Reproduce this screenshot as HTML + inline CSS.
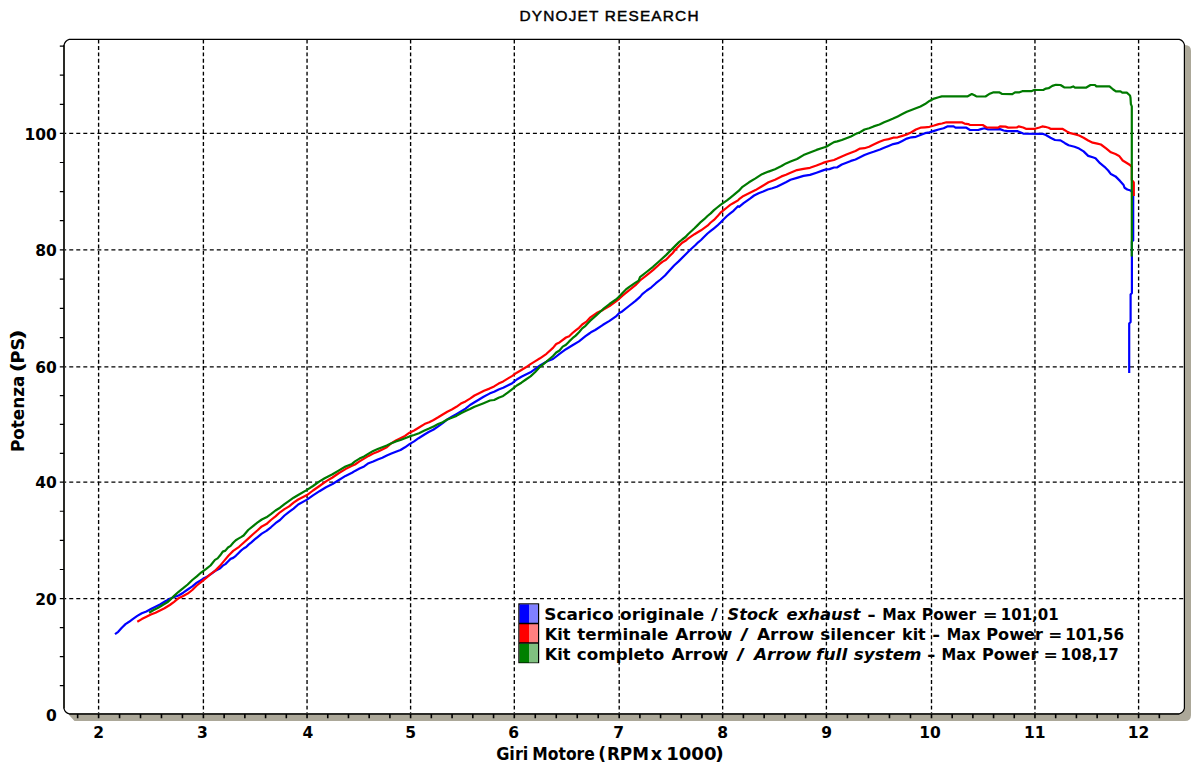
<!DOCTYPE html>
<html><head><meta charset="utf-8"><title>Dynojet Research</title><style>
html,body{margin:0;padding:0;background:#fff;overflow:hidden;}
svg{display:block;}
.t{font-family:"DejaVu Sans",Verdana,sans-serif;font-weight:bold;fill:#000;}
</style></head><body>
<svg width="1200" height="770" viewBox="0 0 1200 770">
<rect width="1200" height="770" fill="#fff"/>
<text x="519.5" y="20.9" font-family="Liberation Sans, Arial, sans-serif" font-size="15.4" fill="#000" stroke="#000" stroke-width="0.45" textLength="179" lengthAdjust="spacing">DYNOJET RESEARCH</text>
<path d="M75 45H1185Q1191 45 1191 51V715Q1191 721 1185 721H74.5L69 715V45Z" fill="#aca899"/>
<path d="M69.2 39.3H1179.3Q1183.3 40.3 1184.4 44.6V708.4Q1183.4 712.8 1179.2 713.8H69.3Q65 712.8 64 708.6V45.2Q65 40.5 69.2 39.3Z" fill="#fff" stroke="#000" stroke-width="1.2"/>
<path d="M64 45V708.4M69.5 713.9H1179" stroke="#2a2a26" stroke-width="2" fill="none"/>
<path d="M98.60 39.6V713M203.40 39.6V713M307.05 39.6V713M410.60 39.6V713M514.30 39.6V713M619.20 39.6V713M722.65 39.6V713M826.40 39.6V713M931.50 39.6V713M1034.95 39.6V713M1138.60 39.6V713" stroke="#000" stroke-width="1.35" stroke-dasharray="3.9 2.505" fill="none"/>
<path d="M65 133.40H1184M65 249.80H1184M65 366.80H1184M65 482.10H1184M65 598.60H1184" stroke="#000" stroke-width="1.35" stroke-dasharray="4 3.025" stroke-dashoffset="2.775" fill="none"/>
<path d="M59.8 685.60H64M59.8 656.60H64M59.8 627.60H64M59.8 598.60H64M59.8 569.48H64M59.8 540.35H64M59.8 511.23H64M59.8 482.10H64M59.8 453.28H64M59.8 424.45H64M59.8 395.62H64M59.8 366.80H64M59.8 337.55H64M59.8 308.30H64M59.8 279.05H64M59.8 249.80H64M59.8 220.70H64M59.8 191.60H64M59.8 162.50H64M59.8 133.40H64M59.8 104.30H64M59.8 75.20H64M59.8 46.10H64" stroke="#000" stroke-width="1.2" fill="none"/>
<path d="M77.64 714V718.2M98.60 714V718.2M119.56 714V718.2M140.52 714V718.2M161.48 714V718.2M182.44 714V718.2M203.40 714V718.2M224.13 714V718.2M244.86 714V718.2M265.59 714V718.2M286.32 714V718.2M307.05 714V718.2M327.76 714V718.2M348.47 714V718.2M369.18 714V718.2M389.89 714V718.2M410.60 714V718.2M431.34 714V718.2M452.08 714V718.2M472.82 714V718.2M493.56 714V718.2M514.30 714V718.2M535.28 714V718.2M556.26 714V718.2M577.24 714V718.2M598.22 714V718.2M619.20 714V718.2M639.89 714V718.2M660.58 714V718.2M681.27 714V718.2M701.96 714V718.2M722.65 714V718.2M743.40 714V718.2M764.15 714V718.2M784.90 714V718.2M805.65 714V718.2M826.40 714V718.2M847.42 714V718.2M868.44 714V718.2M889.46 714V718.2M910.48 714V718.2M931.50 714V718.2M952.19 714V718.2M972.88 714V718.2M993.57 714V718.2M1014.26 714V718.2M1034.95 714V718.2M1055.68 714V718.2M1076.41 714V718.2M1097.14 714V718.2M1117.87 714V718.2M1138.60 714V718.2M1159.33 714V718.2" stroke="#000" stroke-width="1.6" fill="none"/>
<g fill="none" stroke-width="2.2" stroke-linejoin="round" stroke-linecap="butt">
<path d="M115.0 634.1L118.2 631.8L121.8 627.7L125.5 624.1L129.1 621.8L132.7 619.1L137.3 615.9L141.8 613.2L146.4 611.4L150.9 609.1L155.5 606.8L160.0 604.5L164.5 601.8L169.1 599.1L173.7 597.2L178.6 595.5L183.2 592.7L187.7 589.5L192.3 586.4L196.8 582.7L201.4 580.0L205.9 577.3L210.5 574.3L215.0 571.0L220.2 568.2L222.8 565.6L225.4 564.1L228.0 561.5L230.6 558.9L233.2 557.9L235.8 555.8L238.4 553.2L241.0 550.6L243.6 548.5L246.2 547.0L248.8 544.4L251.4 542.3L255.0 539.2L257.3 537.3L261.8 533.6L266.4 530.9L270.9 527.3L275.5 523.2L280.0 520.0L284.5 515.5L289.1 511.8L293.6 508.6L298.2 504.5L307.0 499.6L313.0 495.4L319.5 491.2L326.0 487.3L332.5 484.0L337.7 480.8L345.5 475.9L352.0 472.7L355.0 470.9L359.5 468.6L364.1 466.4L368.6 463.2L373.2 461.4L377.7 459.5L382.3 457.7L386.8 455.5L391.4 453.6L395.9 451.8L400.5 450.0L405.0 447.3L409.5 444.1L414.1 441.4L418.6 438.2L424.5 434.5L429.1 431.8L433.6 429.5L438.2 426.4L442.7 423.2L447.3 419.5L451.8 416.8L456.4 414.1L460.9 411.4L465.5 408.6L470.0 405.0L474.5 402.3L479.1 399.5L483.6 396.8L489.5 393.6L494.1 391.8L498.6 389.5L503.2 387.7L507.7 385.5L512.3 383.2L516.8 379.5L521.4 376.8L525.9 374.5L530.5 372.3L535.0 369.1L540.0 365.5L546.5 361.6L553.0 359.0L559.5 353.8L566.0 349.2L572.5 345.3L579.0 341.4L585.5 336.2L590.0 333.0L590.9 332.3L595.2 330.0L603.0 324.8L609.5 320.9L616.0 316.4L619.2 313.1L622.5 311.2L629.0 306.0L635.5 300.8L640.0 296.9L642.3 294.1L646.8 290.5L651.4 287.3L655.9 283.2L660.5 279.5L665.0 275.5L669.5 270.5L674.1 265.5L678.6 261.4L685.0 255.0L690.0 250.0L695.5 245.0L698.2 242.3L701.0 240.0L704.2 236.8L707.5 233.5L710.7 230.9L714.0 228.3L717.2 225.7L720.5 222.5L723.7 219.2L727.0 216.0L730.2 213.4L733.5 210.8L738.0 206.2L739.1 206.8L743.6 203.2L750.0 198.6L754.1 195.5L758.6 193.2L763.2 191.4L767.7 189.5L772.3 188.2L776.8 186.8L781.4 184.5L785.9 182.3L790.5 179.8L797.0 177.9L803.5 175.9L810.0 174.9L816.5 172.7L823.0 170.4L826.2 169.4L829.5 169.1L834.0 167.5L837.3 167.3L841.8 164.5L846.4 162.7L850.9 160.9L855.5 159.5L860.0 157.3L864.5 155.0L869.1 153.2L873.6 151.8L880.0 149.5L884.1 147.7L888.6 145.9L893.2 144.1L897.7 143.2L902.3 140.9L906.8 138.6L911.4 137.3L915.9 136.8L920.5 135.0L925.0 133.2L929.5 132.3L934.1 130.9L938.6 129.5L943.6 128.2L947.3 126.4L953.6 126.4L955.5 127.7L966.4 127.7L970.0 130.0L978.2 130.0L980.9 129.1L984.5 128.2L988.2 129.5L1000.0 129.1L1003.6 130.5L1007.5 131.1L1017.7 131.2L1023.2 133.6L1043.2 133.9L1045.9 135.0L1050.5 137.7L1055.0 140.0L1060.5 140.3L1065.0 143.2L1068.6 145.3L1074.5 146.8L1079.1 148.6L1083.6 151.4L1088.2 155.9L1092.7 157.3L1095.5 158.2L1100.0 163.2L1104.5 166.8L1108.2 170.5L1110.9 174.1L1115.5 176.4L1120.0 180.9L1123.6 185.0L1124.5 187.7L1127.3 189.5L1130.5 190.5L1133.2 193.0L1133.2 240.5L1131.9 241.5L1131.9 293.0L1130.6 294.5L1130.6 322.0L1129.2 323.5L1129.2 373.0" stroke="#0000ff"/>
<path d="M137.3 621.8L141.8 619.1L146.4 616.8L150.9 614.5L155.5 612.7L160.0 610.5L164.5 608.2L169.8 605.0L174.1 601.8L178.6 598.2L183.2 595.9L187.7 593.6L192.3 590.0L196.8 585.5L201.4 581.8L205.9 578.2L210.5 574.1L215.0 570.9L219.5 566.4L224.1 560.9L228.6 555.5L233.2 550.9L239.1 546.8L243.6 542.7L248.2 538.6L252.7 534.5L257.3 530.5L261.8 526.4L266.4 524.1L270.9 520.0L275.5 516.4L280.0 512.3L284.5 509.1L289.1 506.4L293.6 502.7L298.2 499.5L307.0 495.1L313.0 490.5L319.5 486.0L326.0 481.4L332.5 477.5L339.0 473.0L345.5 469.1L352.0 465.8L355.0 464.5L359.5 461.4L364.1 458.6L368.6 455.9L373.2 453.6L377.7 451.8L382.3 449.5L386.8 447.3L391.4 443.2L395.9 440.5L400.5 438.2L405.0 435.9L409.5 432.7L414.1 430.5L418.6 427.7L424.5 424.1L429.1 422.3L433.6 420.0L438.2 417.3L442.7 414.5L447.3 411.8L451.8 409.5L456.4 406.8L460.9 403.6L465.5 401.4L470.0 398.6L474.5 395.5L479.1 393.2L484.0 390.7L489.5 388.6L494.1 386.4L498.6 383.6L503.2 381.4L507.7 378.6L512.3 375.9L516.8 372.7L521.4 370.0L525.9 367.3L530.5 364.1L535.0 361.4L540.0 358.3L546.5 353.8L553.0 347.9L556.2 344.0L559.5 342.4L566.0 337.5L569.2 336.2L572.5 333.0L575.7 330.4L579.0 327.8L582.2 324.5L586.8 321.3L590.0 317.7L596.5 313.1L603.0 309.9L609.5 306.0L616.0 301.4L619.2 298.8L622.5 295.6L629.0 290.4L635.5 285.2L640.0 280.5L646.5 275.3L653.0 270.1L659.5 264.2L662.7 261.6L666.0 259.7L669.2 256.4L672.5 253.2L675.7 249.3L679.0 246.0L682.2 242.8L685.5 240.8L688.0 238.7L694.5 234.2L701.0 230.3L707.5 225.7L710.7 222.5L714.0 219.9L717.2 216.6L720.5 212.7L723.7 210.1L727.0 207.5L730.2 204.9L733.5 203.0L738.0 200.4L739.1 199.1L742.5 196.6L749.0 193.3L755.5 190.1L762.0 186.2L768.5 182.3L775.0 179.7L781.5 176.4L786.0 174.8L790.5 172.7L797.0 170.1L803.5 168.8L810.0 167.8L816.5 165.5L823.0 162.9L826.2 161.9L829.5 161.0L834.0 160.0L837.3 158.6L841.8 156.4L846.4 154.5L850.9 152.7L855.5 150.9L860.0 148.6L864.5 148.2L869.1 146.8L873.6 144.5L879.5 141.8L884.1 140.0L888.6 139.1L893.2 137.7L897.7 137.3L902.3 135.9L906.8 134.5L911.4 132.3L915.9 129.5L920.5 127.7L925.0 127.3L929.5 126.8L934.1 125.5L938.6 124.1L942.0 123.5L946.4 122.3L961.8 122.3L964.5 123.6L968.2 124.1L970.0 125.0L982.7 125.0L986.4 127.3L998.2 127.7L1000.0 126.4L1005.5 126.6L1008.2 127.6L1016.8 127.5L1018.6 126.4L1023.2 127.5L1025.9 128.8L1035.0 128.8L1039.5 127.5L1042.3 126.4L1045.0 126.8L1048.6 127.7L1050.5 128.8L1062.3 128.8L1066.8 131.4L1070.3 133.2L1074.5 134.1L1079.1 135.5L1083.6 137.7L1088.2 140.5L1092.7 142.7L1097.3 143.6L1100.9 144.5L1106.4 148.6L1110.9 152.3L1115.5 154.1L1119.1 155.9L1122.7 160.5L1126.4 162.7L1130.0 165.0L1131.8 167.0L1131.8 180.0L1133.8 182.5L1133.8 196.0" stroke="#ff0000"/>
<path d="M149.1 612.7L153.6 610.0L158.2 607.7L162.7 605.0L167.3 602.3L169.8 600.2L174.1 595.9L178.6 591.8L183.2 588.2L187.7 584.5L192.3 580.0L196.8 576.4L201.4 572.3L205.9 569.1L210.5 565.5L215.0 559.9L217.6 558.4L220.2 555.3L222.8 551.6L225.4 550.6L228.0 547.5L230.6 545.9L233.2 542.8L235.8 540.2L238.4 538.6L241.0 537.1L243.6 535.5L248.2 530.0L252.7 526.4L257.3 522.7L261.8 519.5L266.4 517.3L270.9 514.1L275.5 510.5L280.0 507.7L284.5 504.1L289.1 500.9L293.6 497.7L298.2 495.0L307.0 489.9L313.0 486.0L319.5 481.4L324.7 478.2L332.5 474.3L339.0 470.4L345.5 466.5L352.0 463.9L355.0 461.4L359.5 458.6L364.1 456.4L368.6 453.6L373.2 450.9L377.7 449.1L382.3 447.3L386.8 445.5L391.4 443.2L395.9 441.4L400.5 440.0L405.0 438.2L409.5 436.4L414.1 435.0L419.0 433.2L424.5 430.5L429.1 428.6L433.6 426.4L438.2 424.1L442.7 422.3L447.3 419.5L451.8 417.7L456.4 415.9L460.9 413.2L465.5 410.9L470.0 409.1L474.5 406.8L479.1 405.0L483.6 403.2L490.0 400.5L494.1 400.0L498.6 397.7L503.2 395.9L507.7 392.7L512.3 389.1L516.8 385.5L521.4 382.7L525.9 379.5L530.5 376.4L535.0 372.3L540.0 366.8L546.5 361.6L553.0 356.0L556.2 352.5L559.5 350.5L562.7 346.6L566.0 344.7L569.2 341.4L572.5 338.2L575.7 335.6L579.0 332.3L582.2 328.4L585.5 325.8L590.0 320.9L596.5 315.1L603.0 309.2L609.5 304.0L616.0 299.5L619.2 296.6L622.5 293.0L625.7 289.7L629.0 287.1L635.5 282.6L638.7 280.6L640.0 277.2L646.5 272.0L653.0 266.8L659.5 261.0L666.0 255.1L669.2 251.9L672.5 248.6L675.7 245.4L679.0 242.1L682.2 239.5L685.5 237.0L688.0 234.2L694.5 228.3L697.7 225.1L701.0 221.8L704.2 219.2L707.5 216.0L710.7 213.4L714.0 210.1L717.2 207.5L720.5 204.9L723.7 202.7L727.0 200.4L730.2 197.8L733.5 195.2L738.0 191.3L739.1 190.5L742.5 186.8L749.0 182.3L755.5 178.4L762.0 174.2L768.5 171.6L775.0 169.3L781.5 166.0L786.0 163.4L790.5 161.6L797.0 159.0L803.5 155.1L810.0 152.5L816.5 149.9L823.0 147.7L826.2 146.7L829.5 144.7L834.0 142.1L837.3 141.4L841.8 140.0L846.4 138.2L850.9 136.4L855.5 134.1L860.0 132.3L864.5 129.5L869.1 128.2L873.6 126.4L879.5 124.5L884.1 122.3L888.6 120.5L893.2 118.6L897.7 116.4L902.3 114.1L906.8 111.8L911.4 110.0L915.9 108.2L920.5 106.4L925.0 104.1L929.5 100.9L934.1 98.6L938.6 97.3L941.8 96.4L967.3 96.4L970.0 95.0L971.8 94.1L974.5 95.3L976.4 96.4L985.5 96.5L989.1 94.1L993.6 92.3L999.1 92.3L1001.8 93.8L1012.3 94.1L1015.0 92.3L1019.5 92.3L1022.3 91.2L1031.4 91.2L1034.1 90.0L1043.2 90.0L1045.9 88.6L1048.6 88.2L1052.3 85.9L1055.9 84.8L1060.5 85.0L1064.1 87.3L1070.5 87.5L1073.2 86.4L1075.0 87.7L1085.9 87.7L1090.5 85.0L1095.0 85.0L1096.4 86.4L1109.5 86.4L1113.2 89.5L1115.9 91.4L1120.5 91.4L1122.3 92.7L1126.8 92.7L1130.0 95.5L1130.5 97.7L1130.9 104.1L1131.8 106.4L1131.8 256.5" stroke="#007a00"/>
</g>
<text class="t" x="56.8" y="720.70" text-anchor="end" font-size="15.5">0</text>
<text class="t" x="56.8" y="604.70" text-anchor="end" font-size="15.5">20</text>
<text class="t" x="56.8" y="488.20" text-anchor="end" font-size="15.5">40</text>
<text class="t" x="56.8" y="372.90" text-anchor="end" font-size="15.5">60</text>
<text class="t" x="56.8" y="255.90" text-anchor="end" font-size="15.5">80</text>
<text class="t" x="56.8" y="139.50" text-anchor="end" font-size="15.5">100</text>
<text class="t" x="98.75" y="738.2" text-anchor="middle" font-size="15.5">2</text>
<text class="t" x="202.40" y="738.2" text-anchor="middle" font-size="15.5">3</text>
<text class="t" x="307.80" y="738.2" text-anchor="middle" font-size="15.5">4</text>
<text class="t" x="410.75" y="738.2" text-anchor="middle" font-size="15.5">5</text>
<text class="t" x="513.60" y="738.2" text-anchor="middle" font-size="15.5">6</text>
<text class="t" x="618.70" y="738.2" text-anchor="middle" font-size="15.5">7</text>
<text class="t" x="722.70" y="738.2" text-anchor="middle" font-size="15.5">8</text>
<text class="t" x="826.60" y="738.2" text-anchor="middle" font-size="15.5">9</text>
<text class="t" x="930.10" y="738.2" text-anchor="middle" font-size="15.5">10</text>
<text class="t" x="1034.75" y="738.2" text-anchor="middle" font-size="15.5">11</text>
<text class="t" x="1138.45" y="738.2" text-anchor="middle" font-size="15.5">12</text>
<text class="t" y="760" font-size="18.5"><tspan x="496.13" textLength="32.24" lengthAdjust="spacingAndGlyphs">Giri</tspan> <tspan x="532.32" textLength="62.47" lengthAdjust="spacingAndGlyphs">Motore</tspan> <tspan x="598.16" textLength="7.79" lengthAdjust="spacingAndGlyphs">(</tspan><tspan x="606.88" textLength="42.03" lengthAdjust="spacingAndGlyphs">RPM</tspan> <tspan x="650.85" textLength="11.39" lengthAdjust="spacingAndGlyphs">x</tspan> <tspan x="666.25" textLength="50.24" lengthAdjust="spacingAndGlyphs">1000</tspan><tspan x="715.12" textLength="8.81" lengthAdjust="spacingAndGlyphs">)</tspan></text>
<text class="t" transform="translate(23.5 451) rotate(-90)" y="0" font-size="18.5"><tspan x="-1.12" textLength="76.51" lengthAdjust="spacingAndGlyphs">Potenza</tspan> <tspan x="78.58" textLength="10.67" lengthAdjust="spacingAndGlyphs">(</tspan><tspan x="87.49" textLength="25.66" lengthAdjust="spacingAndGlyphs">PS</tspan><tspan x="110.58" textLength="11.52" lengthAdjust="spacingAndGlyphs">)</tspan></text>
<rect x="519" y="604" width="19.5" height="58.5" fill="none" stroke="#000" stroke-width="1.4"/>
<rect x="519.5" y="604.5" width="9.5" height="19" fill="#0000ff"/><rect x="529" y="604.5" width="9" height="19" fill="#8080ff"/>
<rect x="519.5" y="624" width="9.5" height="19" fill="#ff0000"/><rect x="529" y="624" width="9" height="19" fill="#ff8080"/>
<rect x="519.5" y="643.5" width="9.5" height="19" fill="#008000"/><rect x="529" y="643.5" width="9" height="19" fill="#80c080"/>
<path d="M519 623.5H538.5M519 643H538.5" stroke="#000" stroke-width="1.3"/>
<text class="t" y="620.0" font-size="16"><tspan x="544.24" textLength="69.35" lengthAdjust="spacingAndGlyphs">Scarico</tspan> <tspan x="620.05" textLength="84.13" lengthAdjust="spacingAndGlyphs">originale</tspan> <tspan x="711.00" textLength="6.82" lengthAdjust="spacingAndGlyphs">/</tspan> <tspan x="727.60" font-style="italic" textLength="50.59" lengthAdjust="spacingAndGlyphs">Stock</tspan> <tspan x="786.50" font-style="italic" textLength="73.99" lengthAdjust="spacingAndGlyphs">exhaust</tspan> <tspan x="867.32" textLength="8.50" lengthAdjust="spacingAndGlyphs">-</tspan> <tspan x="882.29" textLength="33.55" lengthAdjust="spacingAndGlyphs">Max</tspan> <tspan x="921.83" textLength="54.31" lengthAdjust="spacingAndGlyphs">Power</tspan> <tspan x="982.88" textLength="14.88" lengthAdjust="spacingAndGlyphs">=</tspan> <tspan x="1000.72" textLength="57.98" lengthAdjust="spacingAndGlyphs">101,01</tspan></text>
<text class="t" y="640.0" font-size="16"><tspan x="544.80" textLength="25.63" lengthAdjust="spacingAndGlyphs">Kit</tspan> <tspan x="577.30" textLength="91.18" lengthAdjust="spacingAndGlyphs">terminale</tspan> <tspan x="675.30" textLength="57.03" lengthAdjust="spacingAndGlyphs">Arrow</tspan> <tspan x="740.00" textLength="8.57" lengthAdjust="spacingAndGlyphs">/</tspan> <tspan x="757.00" textLength="57.13" lengthAdjust="spacingAndGlyphs">Arrow</tspan> <tspan x="820.35" textLength="74.52" lengthAdjust="spacingAndGlyphs">silencer</tspan> <tspan x="902.11" textLength="23.57" lengthAdjust="spacingAndGlyphs">kit</tspan> <tspan x="932.22" textLength="7.84" lengthAdjust="spacingAndGlyphs">-</tspan> <tspan x="946.69" textLength="33.65" lengthAdjust="spacingAndGlyphs">Max</tspan> <tspan x="986.29" textLength="56.66" lengthAdjust="spacingAndGlyphs">Power</tspan> <tspan x="1048.20" textLength="14.08" lengthAdjust="spacingAndGlyphs">=</tspan> <tspan x="1065.19" textLength="58.82" lengthAdjust="spacingAndGlyphs">101,56</tspan></text>
<text class="t" y="659.6" font-size="16"><tspan x="544.80" textLength="25.63" lengthAdjust="spacingAndGlyphs">Kit</tspan> <tspan x="576.85" textLength="87.45" lengthAdjust="spacingAndGlyphs">completo</tspan> <tspan x="671.40" textLength="57.13" lengthAdjust="spacingAndGlyphs">Arrow</tspan> <tspan x="736.20" textLength="8.47" lengthAdjust="spacingAndGlyphs">/</tspan> <tspan x="753.96" font-style="italic" textLength="57.27" lengthAdjust="spacingAndGlyphs">Arrow</tspan> <tspan x="816.03" font-style="italic" textLength="31.25" lengthAdjust="spacingAndGlyphs">full</tspan> <tspan x="853.80" font-style="italic" textLength="67.69" lengthAdjust="spacingAndGlyphs">system</tspan> <tspan x="927.12" textLength="8.50" lengthAdjust="spacingAndGlyphs">-</tspan> <tspan x="941.48" textLength="34.27" lengthAdjust="spacingAndGlyphs">Max</tspan> <tspan x="982.10" textLength="56.25" lengthAdjust="spacingAndGlyphs">Power</tspan> <tspan x="1043.46" textLength="14.34" lengthAdjust="spacingAndGlyphs">=</tspan> <tspan x="1060.62" textLength="58.19" lengthAdjust="spacingAndGlyphs">108,17</tspan></text>
</svg>
</body></html>
